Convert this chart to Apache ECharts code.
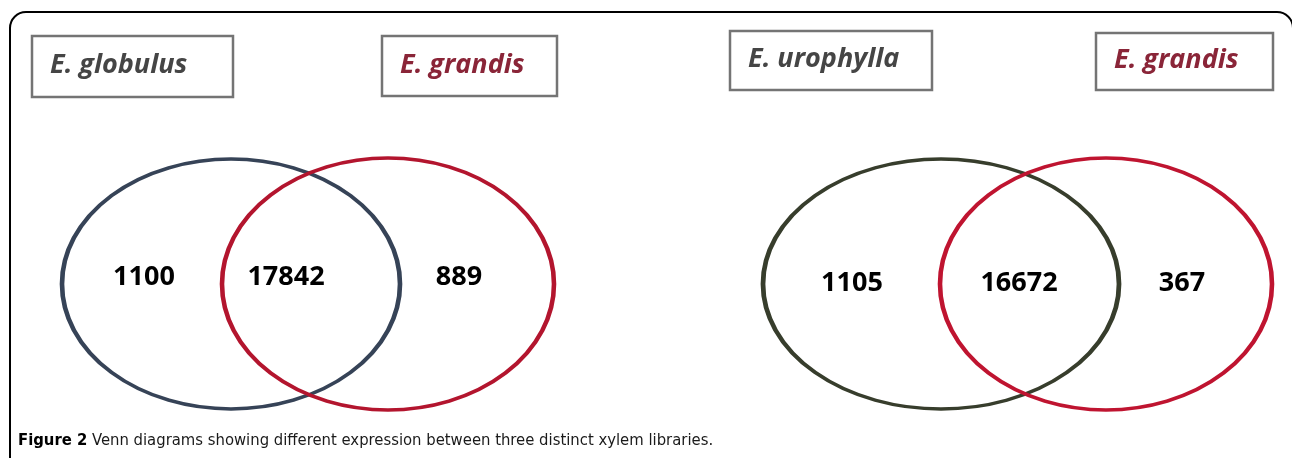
<!DOCTYPE html>
<html>
<head>
<meta charset="utf-8">
<script src="https://cdn.jsdelivr.net/npm/echarts@6/dist/echarts.min.js"></script>
<style>
  html, body { margin: 0; padding: 0; background: #fff; }
  #chart { width: 1292px; height: 458px; }
</style>
</head>
<body>
<div id="chart"></div>
<script>
// 数据：两组 Venn 图
const setA = ['E. globulus', 'E. urophylla'];
const setB = ['E. grandis', 'E. grandis'];
const onlyA = [1100, 1105];
const shared = [17842, 16672];
const onlyB = [889, 367];
const caption = ['Figure 2', 'Venn diagrams showing different expression between three distinct xylem libraries.'];

// 版面（像素坐标，由隐藏坐标轴换算）
const layout = [
  {
    a: { cx: 231, cy: 284, rx: 169, ry: 125, color: '#364357' },
    b: { cx: 388, cy: 284, rx: 166, ry: 126, color: '#b3152e' },
    labelX: [144, 286, 459], labelY: 277,
    boxA: [32, 36, 201, 61], boxB: [382, 36, 175, 60]
  },
  {
    a: { cx: 941, cy: 284, rx: 178, ry: 125, color: '#373d2c' },
    b: { cx: 1106, cy: 284, rx: 166, ry: 126, color: '#bf1430' },
    labelX: [852, 1019, 1182], labelY: 283,
    boxA: [730, 31, 202, 59], boxB: [1096, 33, 177, 57]
  }
];

const ellipsePath = 'path://M0,100A100,100,0,1,1,200,100A100,100,0,1,1,0,100Z';

let chart = echarts.init(document.getElementById('chart'), null, { renderer: 'canvas' });

// 圆圈
let circleData = [];
layout.forEach((p) => {
  [p.a, p.b].forEach((c) => {
    circleData.push({
      value: [c.cx, c.cy],
      symbolSize: [c.rx * 2, c.ry * 2],
      itemStyle: { color: 'rgba(0,0,0,0)', borderColor: c.color, borderWidth: 4, opacity: 1 }
    });
  });
});

// 数字
let countData = [];
layout.forEach((p, i) => {
  [onlyA[i], shared[i], onlyB[i]].forEach((v, k) => {
    countData.push({ value: [p.labelX[k], p.labelY], count: v });
  });
});

// 方框标签
let boxes = [];
layout.forEach((p, i) => {
  [[p.boxA, setA[i], '#454545'], [p.boxB, setB[i], '#8a2538']].forEach(([b, name, col]) => {
    boxes.push({
      type: 'rect',
      shape: { x: b[0], y: b[1], width: b[2], height: b[3] },
      style: { fill: '#fff', stroke: '#747474', lineWidth: 2.5 },
      z: 10
    });
    boxes.push({
      type: 'text',
      x: b[0] + 18,
      y: b[1] + b[3] / 2 - 1,
      style: {
        text: name,
        fill: col,
        font: 'italic bold 27px "Open Sans", Lato, sans-serif',
        textAlign: 'left',
        textVerticalAlign: 'middle'
      },
      z: 11
    });
  });
});

let option = {
  animation: false,
  grid: { left: 0, right: 0, top: 0, bottom: 0 },
  xAxis: { type: 'value', min: 0, max: 1292, show: false },
  yAxis: { type: 'value', min: 0, max: 458, inverse: true, show: false },
  graphic: [
    {
      type: 'rect',
      shape: { x: 10, y: 12, width: 1283, height: 480, r: 16 },
      style: { fill: 'none', stroke: '#000', lineWidth: 2 },
      z: 0
    },
    ...boxes,
    {
      type: 'text',
      x: 18,
      y: 441,
      style: {
        text: '{b|' + caption[0] + '} ' + caption[1],
        rich: {
          b: { font: 'bold 16.5px "Liberation Sans Narrow", "DejaVu Sans Condensed", sans-serif', fill: '#000' }
        },
        font: '16.5px "Liberation Sans Narrow", "DejaVu Sans Condensed", sans-serif',
        fill: '#1a1a1a',
        textVerticalAlign: 'middle'
      },
      z: 11
    }
  ],
  series: [
    {
      type: 'scatter',
      symbol: ellipsePath,
      data: circleData,
      silent: true,
      itemStyle: { opacity: 1 },
      z: 2
    },
    {
      type: 'scatter',
      symbolSize: 0,
      data: countData,
      silent: true,
      itemStyle: { opacity: 1 },
      z: 3,
      label: {
        show: true,
        position: 'inside',
        formatter: (p) => String(p.data.count),
        fontFamily: '"Open Sans", Lato, sans-serif',
        fontWeight: 'bold',
        fontSize: 27,
        color: '#000'
      }
    }
  ]
};
chart.setOption(option);
window.addEventListener('resize', () => { chart.resize(); });
</script>
</body>
</html>
